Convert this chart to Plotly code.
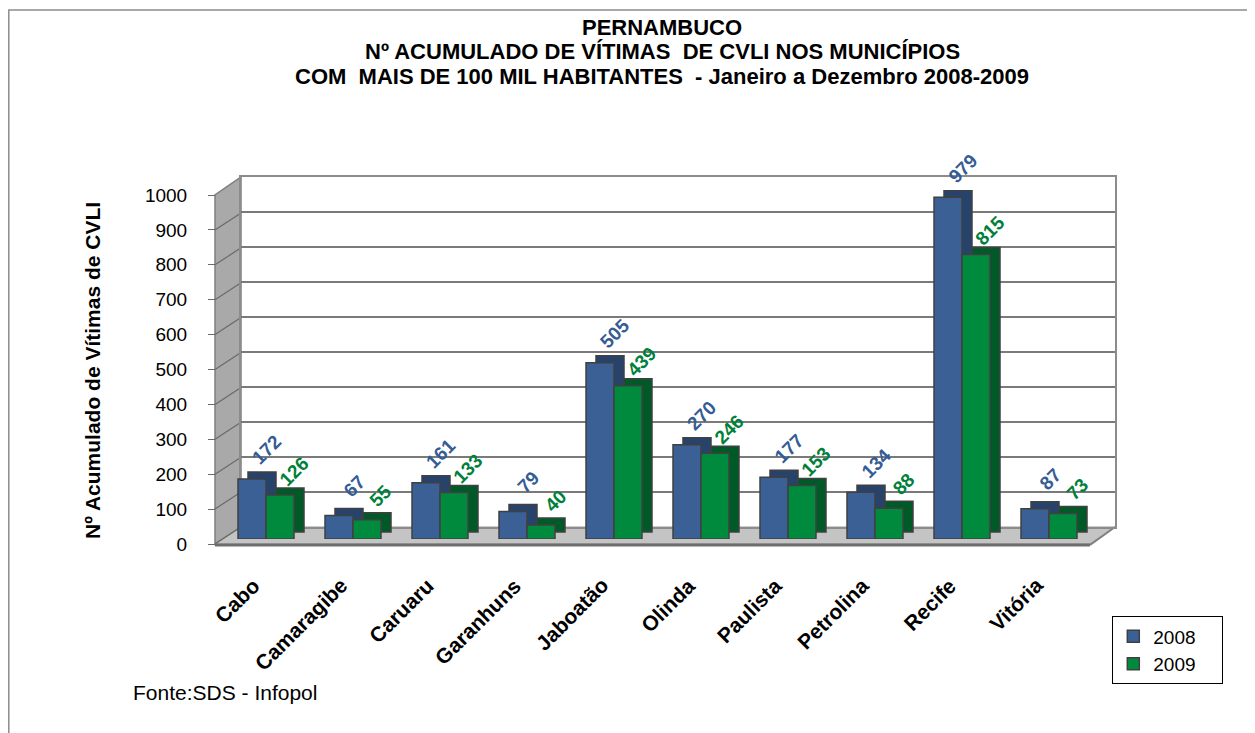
import plotly.graph_objects as go

# ---------------- data ----------------
municipios = ["Cabo", "Camaragibe", "Caruaru", "Garanhuns", "Jaboatão",
              "Olinda", "Paulista", "Petrolina", "Recife", "Vitória"]
v2008 = [172, 67, 161, 79, 505, 270, 177, 134, 979, 87]
v2009 = [126, 55, 133, 40, 439, 246, 153, 88, 815, 73]
y_ticks = [0, 100, 200, 300, 400, 500, 600, 700, 800, 900, 1000]
series_names = ["2008", "2009"]

title_lines = ["PERNAMBUCO",
               "Nº ACUMULADO DE VÍTIMAS  DE CVLI NOS MUNICÍPIOS",
               "COM  MAIS DE 100 MIL HABITANTES  - Janeiro a Dezembro 2008-2009"]
y_title = "Nº Acumulado de Vítimas de CVLI"
source = "Fonte:SDS - Infopol"

# ---------------- styling ----------------
W, H = 1255, 733
OFF = 8  # page body margin compensation
FONT = "Liberation Sans, Arial, sans-serif"
BLUE, BLUE_D = "#3A6095", "#27436B"
GREEN, GREEN_D = "#008A3E", "#005A28"
BLUE_TXT, GREEN_TXT = "#355C94", "#00803A"
EDGE = "#404040"


def px(x):
    return (x - OFF) / W


def py(y):
    return (H - (y - OFF)) / H


# geometry (pixels, in screen coordinates)
FRONT_L, FRONT_R = 215, 1090
BACK_L, BACK_R = 241, 1115
BACK_0, BACK_TOP = 527, 177
FRONT_0, FRONT_TOP = 544, 195
BAR_0, BAR_TOP = 539, 190
CAT_L, CAT_R = 223.5, 1093.5
cat_w = (CAT_R - CAT_L) / len(municipios)
units_per_px = 1000 / (BAR_0 - BAR_TOP)

bar_w = 28 / cat_w
off_blue = -29 / cat_w
off_green = -1 / cat_w
dx = 10 / cat_w
dy = 7 * units_per_px

fig = go.Figure()

# back wall grid subplot (xy)
fig.add_trace(go.Scatter(x=[0], y=[0], xaxis="x", yaxis="y", mode="markers",
                         marker=dict(opacity=0), showlegend=False, hoverinfo="skip"))

# 3D depth faces (drawn first) and front faces
for vals, off, col, dcol, name in [(v2008, off_blue, BLUE, BLUE_D, series_names[0]),
                                    (v2009, off_green, GREEN, GREEN_D, series_names[1])]:
    fig.add_trace(go.Bar(x=municipios, y=vals, base=dy, offset=off + dx, width=bar_w,
                         marker=dict(color=dcol, line=dict(color=EDGE, width=1.5)),
                         xaxis="x2", yaxis="y2", showlegend=False, hoverinfo="skip"))
    fig.add_trace(go.Bar(x=municipios, y=vals, offset=off, width=bar_w,
                         name=name + "\u00a0\u00a0\u00a0\u00a0", legendgroup=name,
                         marker=dict(color=col, line=dict(color=EDGE, width=1.5)),
                         xaxis="x2", yaxis="y2"))

# front tick-label axis (x3y3)
fig.add_trace(go.Scatter(x=[0], y=[0], xaxis="x3", yaxis="y3", mode="markers",
                         marker=dict(opacity=0), showlegend=False, hoverinfo="skip"))

annotations = []
# value labels
for i, m in enumerate(municipios):
    annotations.append(dict(x=m, y=v2008[i], xref="x2", yref="y2", text=str(v2008[i]),
                            showarrow=False, textangle=-45, xshift=0, yshift=29,
                            xanchor="center", yanchor="middle",
                            font=dict(family=FONT, size=19, color=BLUE_TXT, weight="bold")))
    annotations.append(dict(x=m, y=v2009[i], xref="x2", yref="y2", text=str(v2009[i]),
                            showarrow=False, textangle=-45, xshift=27, yshift=24,
                            xanchor="center", yanchor="middle",
                            font=dict(family=FONT, size=19, color=GREEN_TXT, weight="bold")))

# category labels (rotated, below the floor)
for m in municipios:
    annotations.append(dict(x=m, y=0, xref="x2", yref="y2", text=m, showarrow=False,
                            textangle=-45, xanchor="right", yanchor="top",
                            xshift=0, yshift=-32,
                            font=dict(family=FONT, size=21, color="black", weight="bold")))

# y-axis title
annotations.append(dict(x=px(92), y=py(371), xref="paper", yref="paper", text=y_title,
                        showarrow=False, textangle=-90, xanchor="center", yanchor="middle",
                        font=dict(family=FONT, size=21, color="black", weight="bold")))
# title
for k, line in enumerate(title_lines):
    annotations.append(dict(x=px(662), y=py(28 + 24 * k), xref="paper", yref="paper",
                            text=line, showarrow=False, xanchor="center", yanchor="middle",
                            font=dict(family=FONT, size=22, color="black", weight="bold")))
# source
annotations.append(dict(x=px(131), y=py(692), xref="paper", yref="paper", text=source,
                        showarrow=False, xanchor="left", yanchor="middle",
                        font=dict(family=FONT, size=21, color="black")))

shapes = []
# outer border
shapes.append(dict(type="rect", xref="paper", yref="paper", x0=px(8.8), y0=py(10),
                   x1=px(1270), y1=py(750), line=dict(color="#8C8C8C", width=1.5),
                   layer="below"))
# side wall
shapes.append(dict(type="path", xref="paper", yref="paper", layer="below",
                   path=f"M {px(FRONT_L)} {py(FRONT_0)} L {px(BACK_L)} {py(BACK_0)} "
                        f"L {px(BACK_L)} {py(BACK_TOP)} L {px(FRONT_L)} {py(FRONT_TOP)} Z",
                   fillcolor="#A9A9A9", line=dict(color="#7F7F7F", width=1.5)))
# floor
shapes.append(dict(type="path", xref="paper", yref="paper", layer="below",
                   path=f"M {px(FRONT_L)} {py(FRONT_0)} L {px(FRONT_R)} {py(FRONT_0)} "
                        f"L {px(BACK_R)} {py(BACK_0)} L {px(BACK_L)} {py(BACK_0)} Z",
                   fillcolor="#C4C4C4", line=dict(color="#9A9A9A", width=1)))
# floor front edge
shapes.append(dict(type="line", xref="paper", yref="paper", layer="below",
                   x0=px(FRONT_L), y0=py(FRONT_0 + 1), x1=px(FRONT_R), y1=py(FRONT_0 + 1),
                   line=dict(color="#6E6E6E", width=3)))
shapes.append(dict(type="line", xref="paper", yref="paper", layer="below",
                   x0=px(FRONT_R), y0=py(FRONT_0 + 1), x1=px(BACK_R), y1=py(BACK_0),
                   line=dict(color="#7F7F7F", width=2)))
# slanted grid lines on side wall
shift_units = (FRONT_0 - BACK_0) * 1000 / (FRONT_0 - FRONT_TOP)
for t in y_ticks:
    shapes.append(dict(type="line", xref="paper", yref="y3", layer="below",
                       x0=px(FRONT_L), y0=t, x1=px(BACK_L), y1=t + shift_units,
                       line=dict(color="#6A6A6A", width=1.2)))

fig.update_layout(
    width=W, height=H,
    margin=dict(l=0, r=0, t=0, b=0, autoexpand=False),
    paper_bgcolor="white", plot_bgcolor="rgba(0,0,0,0)",
    barmode="overlay",
    font=dict(family=FONT, color="black"),
    showlegend=True,
    legend=dict(x=px(1112), y=py(616), xanchor="left", yanchor="top",
                bordercolor="black", borderwidth=1.3, bgcolor="white",
                font=dict(family=FONT, size=19, color="black"),
                traceorder="grouped", tracegroupgap=0, itemwidth=30),
    annotations=annotations,
    shapes=shapes,
    # back wall
    xaxis=dict(domain=[px(BACK_L), px(BACK_R)], range=[0, 1], showgrid=False,
               zeroline=False, showticklabels=False, ticks="", showline=True,
               linecolor="#8C8C8C", linewidth=2, mirror=True, anchor="y",
               fixedrange=True, automargin=False),
    yaxis=dict(domain=[py(BACK_0), py(BACK_TOP)], range=[0, 1000], dtick=100,
               showgrid=True, gridcolor="#7A7A7A", gridwidth=1.6, zeroline=False,
               showticklabels=False, ticks="", showline=True, linecolor="#8C8C8C",
               linewidth=2, mirror=True, anchor="x", fixedrange=True, automargin=False),
    # bars
    xaxis2=dict(domain=[px(CAT_L), px(CAT_R)], type="category", range=[-0.5, 9.5],
                showgrid=False, zeroline=False, showline=False, ticks="",
                showticklabels=False, anchor="y2", fixedrange=True, automargin=False),
    yaxis2=dict(domain=[py(BAR_0), py(BAR_TOP)], range=[0, 1000], showgrid=False,
                zeroline=False, showticklabels=False, ticks="", showline=False,
                anchor="x2", fixedrange=True, automargin=False),
    # front tick labels
    xaxis3=dict(domain=[px(150), px(FRONT_L)], range=[0, 1], visible=False,
                anchor="y3", fixedrange=True, automargin=False),
    yaxis3=dict(domain=[py(FRONT_0), py(FRONT_TOP)], range=[0, 1000],
                tickvals=y_ticks, ticktext=[str(t) for t in y_ticks],
                showgrid=False, zeroline=False, showline=False,
                ticks="outside", ticklen=7, tickcolor="#6A6A6A", tickwidth=1.2,
                ticklabelstandoff=17, anchor="free", position=px(FRONT_L),
                side="left", tickfont=dict(family=FONT, size=19, color="black"),
                fixedrange=True, automargin=False),
)

fig.write_html("out.html")
